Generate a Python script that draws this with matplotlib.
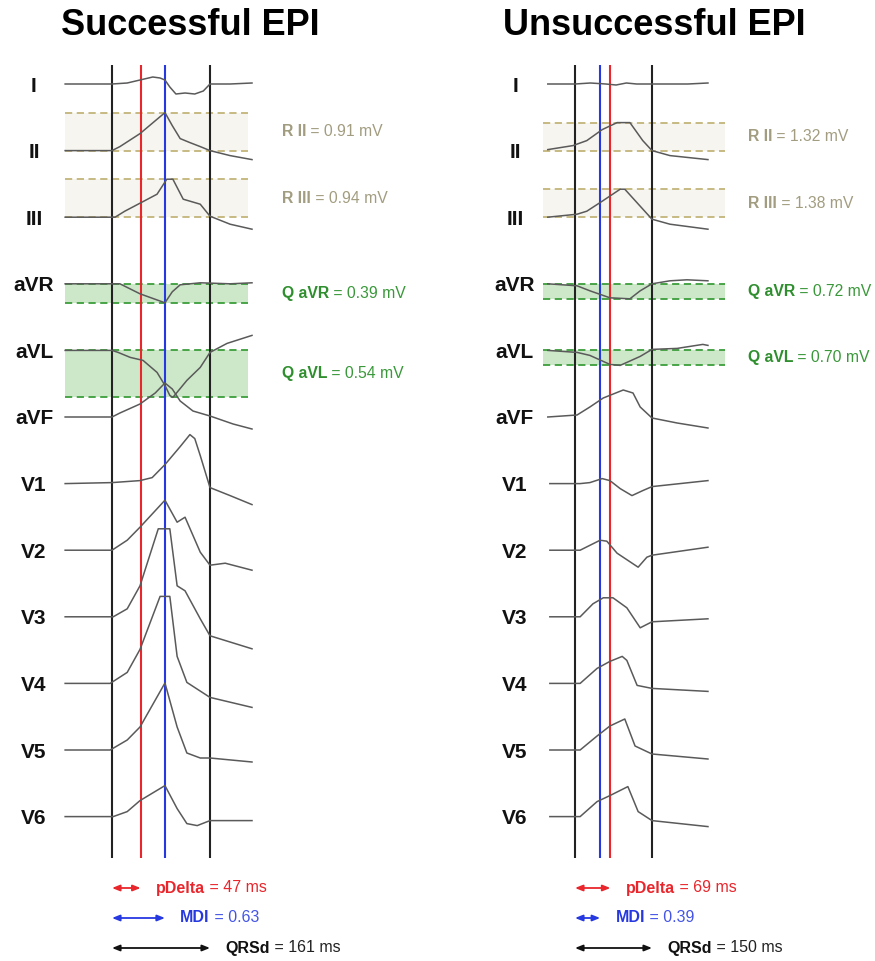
import matplotlib
matplotlib.use('Agg')
import matplotlib.pyplot as plt

plt.rcParams['font.family'] = ['Liberation Sans', 'DejaVu Sans']

leads = ['I', 'II', 'III', 'aVR', 'aVL', 'aVF', 'V1', 'V2', 'V3', 'V4', 'V5', 'V6']

# traces: (time in ms from QRS onset, amplitude in display units)
succ_traces = {
    'I':   [(-77, 0), (0, 0), (25, 1), (46, 4), (67, 7), (79, 6), (87, 4), (95, -3), (105, -10), (120, -9), (136, -10), (150, -7), (161, 0), (194, 0), (230, 1)],
    'II':  [(-77, 0), (0, 0), (13, 4), (46, 17), (87, 38), (99, 25), (112, 12), (128, 8), (145, 4), (161, 0), (194, -5), (230, -9)],
    'III': [(-77, 0), (5, 0), (21, 6), (46, 14), (74, 23), (90, 38), (100, 38), (117, 18), (145, 13), (161, 1), (194, -7), (230, -12)],
    'aVR': [(-77, 0), (13, 0), (46, -10), (87, -19), (99, -8), (112, -1), (145, 1), (194, 0), (230, 1)],
    'aVL': [(-77, 0), (0, 0), (10, -2), (30, -7), (51, -10), (74, -22), (87, -35), (95, -45), (100, -47), (123, -30), (145, -17), (161, -2), (189, 7), (230, 15)],
    'aVF': [(-77, 0), (0, 0), (13, 4), (46, 13), (71, 24), (87, 34), (99, 28), (112, 16), (133, 6), (161, 1), (199, -7), (230, -12)],
    'V1':  [(-77, 0), (0, 1), (46, 3), (66, 6), (87, 19), (112, 37), (128, 49), (136, 45), (145, 28), (161, -4), (194, -12), (230, -21)],
    'V2':  [(-77, 0), (0, 0), (25, 10), (46, 23), (87, 50), (107, 28), (120, 33), (145, -2), (161, -15), (186, -13), (230, -20)],
    'V3':  [(-77, 0), (2, 0), (25, 8), (46, 31), (76, 88), (95, 88), (107, 31), (120, 26), (145, -2), (161, -19), (230, -32)],
    'V4':  [(-77, 0), (-3, 0), (25, 11), (46, 34), (79, 87), (95, 87), (107, 27), (123, 1), (161, -14), (230, -24)],
    'V5':  [(-77, 0), (-3, 0), (25, 10), (46, 23), (87, 67), (107, 23), (123, -3), (145, -8), (161, -8), (230, -12)],
    'V6':  [(-77, 0), (2, 0), (25, 5), (46, 16), (87, 31), (107, 8), (123, -7), (140, -9), (161, -4), (230, -4)],
}

unsucc_traces = {
    'I':   [(-53, 0), (0, 0), (30, 1), (60, 0), (80, -1), (100, 1), (120, 0), (150, 0), (220, 0), (259, 1)],
    'II':  [(-53, 1), (-4, 5), (23, 10), (53, 21), (82, 28), (107, 28), (132, 10), (150, 0), (185, -5), (259, -9)],
    'III': [(-53, 0), (4, 3), (23, 6), (53, 16), (88, 28), (97, 28), (127, 11), (150, -2), (185, -7), (259, -12)],
    'aVR': [(-53, 0), (4, -2), (29, -7), (68, -14), (107, -15), (127, -7), (150, 0), (185, 3), (218, 4), (259, 3)],
    'aVL': [(-53, 0), (4, -2), (29, -5), (68, -14), (88, -15), (127, -6), (150, 1), (199, 2), (249, 6), (259, 5)],
    'aVF': [(-53, 0), (4, 2), (29, 10), (55, 19), (94, 27), (113, 24), (127, 10), (150, -1), (199, -6), (259, -11)],
    'V1':  [(-49, 0), (10, 0), (29, 1), (53, 5), (68, 3), (88, -5), (111, -12), (132, -7), (150, -3), (259, 3)],
    'V2':  [(-49, 0), (10, 0), (49, 10), (62, 9), (82, -3), (123, -17), (140, -7), (150, -5), (259, 3)],
    'V3':  [(-49, 0), (10, 0), (35, 13), (55, 19), (74, 19), (101, 9), (127, -11), (150, -5), (259, -2)],
    'V4':  [(-49, 0), (10, 0), (43, 15), (68, 22), (92, 27), (101, 23), (121, -2), (150, -5), (259, -8)],
    'V5':  [(-49, 0), (10, 0), (43, 14), (68, 24), (97, 31), (117, 4), (150, -4), (259, -9)],
    'V6':  [(-49, 0), (10, 0), (43, 15), (68, 21), (103, 30), (123, 5), (150, -4), (259, -10)],
}

# measured values per panel
succ_qrsd, succ_pdelta, succ_mdi_ms, succ_mdi = 161, 47, 87, 0.63
unsucc_qrsd, unsucc_pdelta, unsucc_mdi_ms, unsucc_mdi = 150, 69, 49, 0.39

band_leads = ['II', 'III', 'aVR', 'aVL']
band_kind = ['R', 'R', 'Q', 'Q']
succ_band_mv = [0.91, 0.94, 0.39, 0.54]
unsucc_band_mv = [1.32, 1.38, 0.72, 0.70]

W, H = 875, 961
R_COL, R_DASH, R_FILL = '#a29d80', '#c2b47a', '#f7f5ef'
Q_COL, Q_DASH, Q_FILL = '#3a983a', '#3c9e3c', '#cde8c9'
RED, BLUE = '#e8262c', '#2638e0'


def row_y(i):
    return 84 + 66.6 * i


fig = plt.figure(figsize=(W / 100, H / 100), dpi=100)
ov = fig.add_axes([0, 0, 1, 1])
ov.set_xlim(0, W)
ov.set_ylim(H, 0)
ov.axis('off')


def two_part(ax, bold, rest, color, color2, size, **kw):
    t = ax.annotate(bold, fontweight='bold', color=color, fontsize=size,
                    va='center', ha='left', **kw)
    ax.annotate(rest, xy=(1, 0.5), xycoords=t, va='center', ha='left',
                color=color2, fontsize=size)


def panel(traces, qrsd, pdelta, mdi_ms, mdi, band_mv, title,
          onset_px, end_px, x0, x1, band_x, lab_x, note_x, title_x):
    ppm = (end_px - onset_px) / qrsd
    ax = fig.add_axes([x0 / W, 0, (x1 - x0) / W, 1])
    ax.set_xlim((x0 - onset_px) / ppm, (x1 - onset_px) / ppm)
    ax.set_ylim(H, 0)
    ax.axis('off')
    ax.patch.set_alpha(0)
    bx = [(b - onset_px) / ppm for b in band_x]

    # bands
    for lead, kind, mv in zip(band_leads, band_kind, band_mv):
        i = leads.index(lead)
        amps = [a for _, a in traces[lead]]
        h = max(amps) if kind == 'R' else min(amps)
        y0, y1 = row_y(i), row_y(i) - h
        fill, dash, col = (R_FILL, R_DASH, R_COL) if kind == 'R' else (Q_FILL, Q_DASH, Q_COL)
        ax.fill_between(bx, y0, y1, color=fill, lw=0, zorder=0)
        ax.hlines([y0, y1], bx[0], bx[1], colors=dash, linestyles=(0, (4, 2.5)), lw=1.3, zorder=1)
        name = kind + ' ' + lead
        two_part(ov, name, ' = %.2f mV' % mv, col if kind == 'R' else '#2f8f2f', col, 11.3,
                 xy=(note_x, (y0 + y1) / 2))

    # vertical markers
    ax.vlines([0, qrsd], 65, 858, colors='#222222', lw=1.5, zorder=2)
    ax.vlines([pdelta], 65, 858, colors=RED, lw=1.5, zorder=2)
    ax.vlines([mdi_ms], 65, 858, colors=BLUE, lw=1.5, zorder=2)

    # traces
    for i, lead in enumerate(leads):
        t = [p[0] for p in traces[lead]]
        a = [row_y(i) - p[1] for p in traces[lead]]
        ax.plot(t, a, color='#5a5a5a', lw=1.1, zorder=3)
        ov.text(lab_x, row_y(i), lead, fontsize=15, fontweight='bold',
                ha='center', va='center_baseline', color='#111111')

    # interval arrows
    items = [(pdelta, 888, RED, RED, 'pDelta', ' = %d ms' % pdelta),
             (mdi_ms, 918, BLUE, '#4455e6', 'MDI', ' = %.2f' % mdi),
             (qrsd, 948, '#111111', '#222222', 'QRSd', ' = %d ms' % qrsd)]
    for end, y, c, c2, bold, rest in items:
        ax.annotate('', xy=(0, y), xytext=(end, y),
                    arrowprops=dict(arrowstyle='<|-|>,head_length=0.45,head_width=0.18',
                                    color=c, lw=1.3, shrinkA=0, shrinkB=0))
        two_part(ax, bold, rest, c, c2, 11.5, xy=(end, y),
                 xytext=(11, 0), textcoords='offset points', annotation_clip=False)

    ov.text(title_x, 35, title, fontsize=26, fontweight='bold', ha='center', va='baseline')


panel(succ_traces, succ_qrsd, succ_pdelta, succ_mdi_ms, succ_mdi, succ_band_mv,
      'Successful EPI', 112, 210, 60, 262, (65, 248), 34, 282, 190)
panel(unsucc_traces, unsucc_qrsd, unsucc_pdelta, unsucc_mdi_ms, unsucc_mdi, unsucc_band_mv,
      'Unsuccessful EPI', 575, 652, 535, 732, (543, 725), 515, 748, 654)

fig.savefig('out.png', dpi=100)
